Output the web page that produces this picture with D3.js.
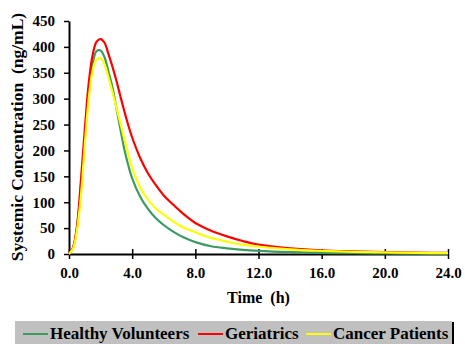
<!DOCTYPE html>
<html><head><meta charset="utf-8">
<script src="https://cdnjs.cloudflare.com/ajax/libs/d3/7.8.5/d3.min.js"></script>
<style>
html,body{margin:0;padding:0;background:#fff;}
svg{display:block;}
</style></head>
<body>
<svg id="chart" width="465" height="344"></svg>
<script>
const times = [0,0.25,0.5,0.75,1.0,1.25,1.5,1.75,2.0,2.25,2.5,2.75,3.0,3.25,3.5,3.75,4.0,4.5,5,5.5,6,6.5,7,7.5,8,9,10,11,12,14,16,18,20,22,24];
const healthy = [0,12,50,130,225,310,368,392,393,380,352,322,282,242,203,172,146,111,87,69,56,45,36,29,23,15,11,8,6,3.5,2,1.5,1,0.8,0.5];
const geriatrics = [0,12,52,140,240,330,385,410,415,408,386,362,335,305,276,249,225,186,156,133,113,98,84,71,60,45,34,25,18,11,7,5,3.5,2.5,2];
const cancer = [0,10,45,110,210,300,355,376,378,366,341,313,283,253,222,192,166,129,105,88,76,65,55,48,42,31,24,18,14.5,9,6,4,3,2,1.5];
const xTicks = [0,4,8,12,16,20,24];
const yTicks = [0,50,100,150,200,250,300,350,400,450];
const seriesNames = ["Healthy Volunteers","Geriatrics","Cancer Patients"];
const seriesColors = ["#3d9a63","#ff0000","#ffff00"];

const svg = d3.select("#chart");
const x = d3.scaleLinear().domain([0,24]).range([69,448]);
const y = d3.scaleLinear().domain([0,450]).range([254,21]);

function styleText(sel, size){
  sel.attr("font-family",null).attr("font-size",null)
    .style("font-family","'Liberation Serif'").style("font-weight","bold").style("font-size",size+"px").style("fill","#000");
}

// axes
const xAxis = svg.append("g").attr("transform","translate(0,254)")
  .call(d3.axisBottom(x).tickValues(xTicks).tickFormat(d3.format(".1f")).tickSize(5).tickSizeOuter(0));
xAxis.attr("font-family",null).attr("font-size",null);
xAxis.select(".domain").attr("stroke","#000").attr("stroke-width",2);
xAxis.selectAll(".tick line").attr("stroke","#000").attr("stroke-width",1.5).attr("y1",-5).attr("y2",5);
styleText(xAxis.selectAll(".tick text").attr("y",13), 15);

const yAxis = svg.append("g").attr("transform","translate(69,0)")
  .call(d3.axisLeft(y).tickValues(yTicks).tickSize(5).tickSizeOuter(0));
yAxis.attr("font-family",null).attr("font-size",null);
yAxis.select(".domain").attr("stroke","#000").attr("stroke-width",2);
yAxis.selectAll(".tick line").attr("stroke","#000").attr("stroke-width",1.5);
styleText(yAxis.selectAll(".tick text").attr("x",-14), 15);

// lines
const allSeries = [healthy, geriatrics, cancer];
const line = d3.line().x(d=>x(d[0])).y(d=>y(d[1])).curve(d3.curveCatmullRom.alpha(0.5));
allSeries.forEach((s,i)=>{
  svg.append("path").datum(times.map((t,j)=>[t,s[j]]))
    .attr("fill","none").attr("stroke",seriesColors[i]).attr("stroke-width",2.2)
    .attr("d",line);
});

// titles
styleText(svg.append("text").attr("x",258.5).attr("y",303).attr("text-anchor","middle")
  .style("white-space","pre").text("Time  (h)"), 16);
styleText(svg.append("text").attr("transform","translate(23,137) rotate(-90)").attr("text-anchor","middle")
  .style("white-space","pre").text("Systemic Concentration  (ng/mL)"), 17.5);

// legend
svg.append("rect").attr("x",15).attr("y",321).attr("width",437).attr("height",23).attr("fill","#c0c0c0");
svg.append("rect").attr("x",452).attr("y",322).attr("width",2).attr("height",22).attr("fill","#000");
const legX = [23,198,306];
const legTextX = [50,225,333];
seriesNames.forEach((n,i)=>{
  svg.append("line").attr("x1",legX[i]).attr("x2",legX[i]+25).attr("y1",334).attr("y2",334)
    .attr("stroke",seriesColors[i]).attr("stroke-width",2);
  styleText(svg.append("text").attr("x",legTextX[i]).attr("y",339).text(n), 17);
});
</script>
</body></html>
